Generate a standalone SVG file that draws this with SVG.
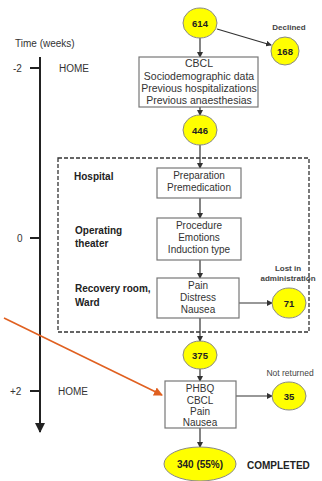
<svg xmlns="http://www.w3.org/2000/svg" width="322" height="481" viewBox="0 0 322 481">
<defs>
<marker id="ah" markerWidth="6" markerHeight="6" refX="5" refY="3" orient="auto" markerUnits="userSpaceOnUse">
<path d="M0,0 L6,3 L0,6 Z" fill="#333"/>
</marker>
<marker id="axh" markerWidth="10" markerHeight="10" refX="9" refY="5" orient="auto" markerUnits="userSpaceOnUse">
<path d="M0,0 L10,5 L0,10 Z" fill="#222"/>
</marker>
<marker id="oh" markerWidth="9" markerHeight="9" refX="8" refY="4.5" orient="auto" markerUnits="userSpaceOnUse">
<path d="M0,0 L9,4.5 L0,9 Z" fill="#e06020"/>
</marker>
</defs>
<style>
text{font-family:"Liberation Sans",Arial,sans-serif;}
.box{fill:#fff;stroke:#777;stroke-width:1.2;}
.ell{fill:#ffff00;stroke:#888;stroke-width:1;}
.bt{font-size:10px;fill:#333;text-anchor:middle;}
.num{font-size:9.5px;font-weight:bold;fill:#222;text-anchor:middle;}
.lab{font-size:10px;font-weight:bold;fill:#222;}
.sm{font-size:8px;font-weight:bold;fill:#444;text-anchor:middle;}
.ax{font-size:10px;fill:#333;}
.con{stroke:#333;stroke-width:1.2;fill:none;}
</style>
<rect width="322" height="481" fill="#fff"/>

<g id="timeline">
<text class="ax" x="15" y="47">Time (weeks)</text>
<line x1="40" y1="57" x2="40" y2="432" stroke="#222" stroke-width="2" marker-end="url(#axh)"/>
<line x1="30" y1="68" x2="40" y2="68" stroke="#222" stroke-width="2"/>
<line x1="30" y1="238" x2="40" y2="238" stroke="#222" stroke-width="2"/>
<line x1="30" y1="391" x2="40" y2="391" stroke="#222" stroke-width="2"/>
<text class="ax" x="13" y="72">-2</text>
<text class="ax" x="17" y="242">0</text>
<text class="ax" x="10" y="395">+2</text>
<text class="ax" x="59" y="72">HOME</text>
<text class="ax" x="58" y="395">HOME</text>
</g>

<g id="hospital-zone">
<rect x="58" y="158" width="251" height="174" fill="none" stroke="#333" stroke-width="1.3" stroke-dasharray="4,2"/>
<text class="lab" x="74" y="180">Hospital</text>
<text class="lab" x="75" y="234">Operating</text>
<text class="lab" x="75" y="247">theater</text>
<text class="lab" x="75" y="292">Recovery room,</text>
<text class="lab" x="75" y="306">Ward</text>
</g>

<g id="connectors">
<line class="con" x1="200" y1="38" x2="200" y2="57" marker-end="url(#ah)"/>
<line class="con" x1="217" y1="29" x2="271" y2="45" marker-end="url(#ah)"/>
<line class="con" x1="200" y1="107" x2="200" y2="115" marker-end="url(#ah)"/>
<line class="con" x1="200" y1="145" x2="200" y2="168" marker-end="url(#ah)"/>
<line class="con" x1="200" y1="198" x2="200" y2="218" marker-end="url(#ah)"/>
<line class="con" x1="200" y1="260" x2="200" y2="278" marker-end="url(#ah)"/>
<line class="con" x1="239" y1="303" x2="272" y2="303" marker-end="url(#ah)"/>
<line class="con" x1="200" y1="318" x2="200" y2="341" marker-end="url(#ah)"/>
<line class="con" x1="200" y1="369" x2="200" y2="381" marker-end="url(#ah)"/>
<line class="con" x1="236" y1="396" x2="272" y2="396" marker-end="url(#ah)"/>
<line class="con" x1="200" y1="428" x2="200" y2="447" marker-end="url(#ah)"/>
<line x1="4" y1="318" x2="162" y2="395" stroke="#e06020" stroke-width="1.6" marker-end="url(#oh)"/>
</g>

<g id="n614"><ellipse class="ell" cx="200" cy="23" rx="17" ry="15"/><text class="num" x="200" y="26.5">614</text></g>
<g id="n168"><text class="sm" x="289" y="30">Declined</text><ellipse class="ell" cx="285" cy="51" rx="14" ry="14"/><text class="num" x="285" y="54.5">168</text></g>
<g id="box-baseline">
<rect class="box" x="139" y="57" width="119" height="50"/>
<text class="bt" x="199" y="67" style="font-size:10.5px">CBCL</text>
<text class="bt" x="199" y="80" style="font-size:10.5px">Sociodemographic data</text>
<text class="bt" x="199" y="92" style="font-size:10.5px">Previous hospitalizations</text>
<text class="bt" x="199" y="104" style="font-size:10.5px">Previous anaesthesias</text>
</g>
<g id="n446"><ellipse class="ell" cx="200" cy="130" rx="17" ry="15"/><text class="num" x="200" y="133.5">446</text></g>
<g id="box-prep">
<rect class="box" x="157" y="168" width="84" height="30"/>
<text class="bt" x="199" y="179">Preparation</text>
<text class="bt" x="199" y="191">Premedication</text>
</g>
<g id="box-procedure">
<rect class="box" x="157" y="218" width="84" height="42"/>
<text class="bt" x="199" y="229">Procedure</text>
<text class="bt" x="199" y="241">Emotions</text>
<text class="bt" x="199" y="253">Induction type</text>
</g>
<g id="box-pain">
<rect class="box" x="157" y="278" width="82" height="40"/>
<text class="bt" x="198" y="289">Pain</text>
<text class="bt" x="198" y="301">Distress</text>
<text class="bt" x="198" y="313">Nausea</text>
</g>
<g id="n71"><text class="sm" x="288" y="271">Lost in</text><text class="sm" x="288" y="281">administration</text><ellipse class="ell" cx="289" cy="303" rx="17" ry="15"/><text class="num" x="289" y="306.5">71</text></g>
<g id="n375"><ellipse class="ell" cx="200" cy="355" rx="17" ry="14"/><text class="num" x="200" y="358.5">375</text></g>
<g id="box-followup">
<rect class="box" x="165" y="381" width="71" height="47"/>
<text class="bt" x="200" y="392">PHBQ</text>
<text class="bt" x="200" y="403.5">CBCL</text>
<text class="bt" x="200" y="415">Pain</text>
<text class="bt" x="200" y="426">Nausea</text>
</g>
<g id="n35"><text style="font-size:8.5px;fill:#444;text-anchor:middle" x="290" y="376">Not returned</text><ellipse class="ell" cx="289" cy="396" rx="17" ry="14"/><text class="num" x="289" y="399.5">35</text></g>
<g id="n340"><ellipse class="ell" cx="200" cy="464" rx="36" ry="17"/><text class="num" x="200" y="468" style="font-size:10px">340 (55%)</text><text class="lab" x="247" y="469">COMPLETED</text></g>
</svg>
